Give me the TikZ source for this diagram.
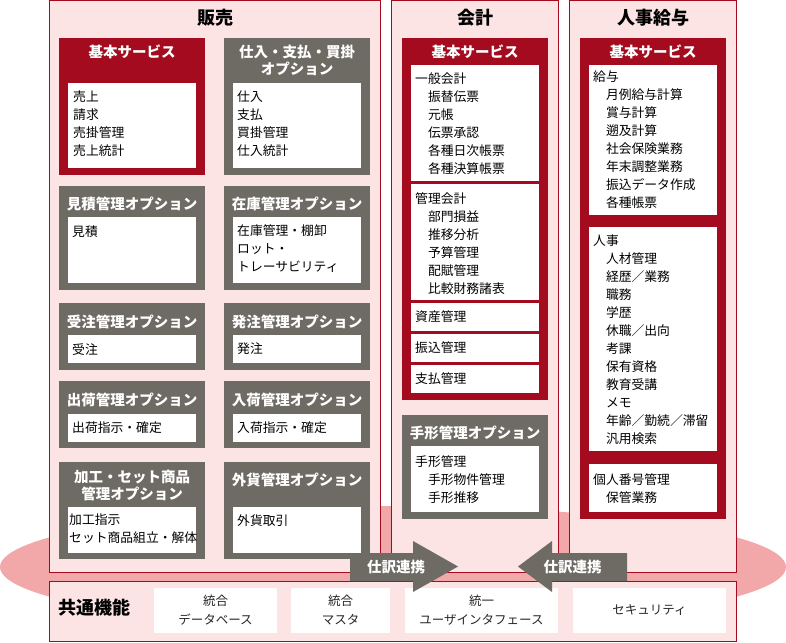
\documentclass[tikz,border=0pt]{standalone}
\usepackage{fontspec}
\setmainfont{Noto Sans CJK JP}
\usepackage{xcolor}
\usepackage{tikz}
\usetikzlibrary{shapes}

\definecolor{crimson}{RGB}{164,11,30}
\definecolor{boxgray}{RGB}{109,107,99}
\definecolor{panelpink}{RGB}{252,228,228}
\definecolor{basepink}{RGB}{242,167,169}

\newcommand{\indt}{\hspace*{1em}}

\tikzset{
	box/.style={anchor=north west, inner sep=0pt, outer sep=0pt},
	dim/.style 2 args={minimum width=#1pt, minimum height=#2pt},
	panel/.style={box, draw=crimson, fill=panelpink, line width=1pt},
	redbox/.style={box, fill=crimson},
	graybox/.style={box, fill=boxgray},
	whitebox/.style={box, fill=white},
	ptitle/.style={inner sep=0pt, font=\bfseries\fontsize{18}{20}\selectfont},
	btitle/.style={text=white, align=center, inner sep=0pt, font=\bfseries\fontsize{14.5}{17}\selectfont},
	items/.style={anchor=north west, align=left, inner sep=0pt, font=\fontsize{12.8}{18}\selectfont},
	cbox/.style={whitebox, align=center, text=black!85, font=\fontsize{12.5}{19}\selectfont}
}

\begin{document}
\begin{tikzpicture}[x=1pt,y=-1pt]
	\useasboundingbox (0,0) rectangle (786,642);
	% base ellipse
	\node[ellipse, fill=basepink, inner sep=0pt, minimum width=786pt, minimum height=122pt] (base) at (393,567) {};
	% panels
	\node[panel, dim={331}{572}] (sales) at (49.5,0.5) {};
	\node[panel, dim={167}{572}] (acct) at (391.5,0.5) {};
	\node[panel, dim={167}{572}] (hr) at (569.5,0.5) {};
	\node[panel, dim={687}{60}] (common) at (49.5,581) {};
	\node[ptitle] (salesT) at (215,18) {販売};
	\node[ptitle] (acctT) at (475,18) {会計};
	\node[ptitle] (hrT) at (653,18) {人事給与};
	%
	% sales
	\node[redbox, dim={146}{137}] (sBasic) at (59,38) {};
	\node[btitle] (sBasicT) at (132,52) {基本サービス};
	\node[whitebox, dim={128}{85}] (sBasicW) at (68,83) {};
	\node[items] (sBasicI) at (73,91) {売上\\請求\\売掛管理\\売上統計};
	\node[graybox, dim={146}{137}] (sBuy) at (224,38) {};
	\node[btitle] (sBuyT) at (297,60.5) {仕入・支払・買掛\\オプション};
	\node[whitebox, dim={128}{85}] (sBuyW) at (233,83) {};
	\node[items] (sBuyI) at (237,91) {仕入\\支払\\買掛管理\\仕入統計};
	\node[graybox, dim={146}{104}] (sEst) at (59,186) {};
	\node[btitle] (sEstT) at (132,204) {見積管理オプション};
	\node[whitebox, dim={128}{66}] (sEstW) at (68,217) {};
	\node[items] (sEstI) at (72,226) {見積};
	\node[graybox, dim={146}{104}] (sStock) at (224,186) {};
	\node[btitle] (sStockT) at (297,204) {在庫管理オプション};
	\node[whitebox, dim={128}{66}] (sStockW) at (233,217) {};
	\node[items] (sStockI) at (237,224) {在庫管理・棚卸\\ロット・\\トレーサビリティ};
	\node[graybox, dim={146}{67}] (sOrd) at (59,303) {};
	\node[btitle] (sOrdT) at (132,322) {受注管理オプション};
	\node[whitebox, dim={128}{28}] (sOrdW) at (68,335) {};
	\node[items] (sOrdI) at (72,343) {受注};
	\node[graybox, dim={146}{67}] (sPord) at (224,303) {};
	\node[btitle] (sPordT) at (297,322) {発注管理オプション};
	\node[whitebox, dim={128}{28}] (sPordW) at (233,335) {};
	\node[items] (sPordI) at (237,343) {発注};
	\node[graybox, dim={146}{67}] (sShip) at (59,381) {};
	\node[btitle] (sShipT) at (132,400) {出荷管理オプション};
	\node[whitebox, dim={128}{28}] (sShipW) at (68,414) {};
	\node[items] (sShipI) at (72,422) {出荷指示・確定};
	\node[graybox, dim={146}{67}] (sRecv) at (224,381) {};
	\node[btitle] (sRecvT) at (297,400) {入荷管理オプション};
	\node[whitebox, dim={128}{28}] (sRecvW) at (233,414) {};
	\node[items] (sRecvI) at (237,422) {入荷指示・確定};
	\node[graybox, dim={146}{97}] (sProc) at (59,462) {};
	\node[btitle] (sProcT) at (132,485.5) {加工・セット商品\\管理オプション};
	\node[whitebox, dim={128}{46}] (sProcW) at (68,507) {};
	\node[items] (sProcI) at (69,514) {加工指示\\セット商品組立・解体};
	\node[graybox, dim={146}{97}] (sFx) at (224,462) {};
	\node[btitle] (sFxT) at (297,480) {外貨管理オプション};
	\node[whitebox, dim={128}{46}] (sFxW) at (233,507) {};
	\node[items] (sFxI) at (237,514) {外貨取引};
	%
	% accounting
	\node[redbox, dim={146}{362}] (aBasic) at (402,38) {};
	\node[btitle] (aBasicT) at (475,52) {基本サービス};
	\node[whitebox, dim={128}{116}] (aGenW) at (411,65) {};
	\node[items] (aGenI) at (415,73) {一般会計\\\indt 振替伝票\\\indt 元帳\\\indt 伝票承認\\\indt 各種日次帳票\\\indt 各種決算帳票};
	\node[whitebox, dim={128}{116}] (aMgW) at (411,184) {};
	\node[items] (aMgI) at (415,192) {管理会計\\\indt 部門損益\\\indt 推移分析\\\indt 予算管理\\\indt 配賦管理\\\indt 比較財務諸表};
	\node[whitebox, dim={128}{28}] (aAssetW) at (411,303) {};
	\node[items] (aAssetI) at (415,310) {資産管理};
	\node[whitebox, dim={128}{28}] (aTransW) at (411,334) {};
	\node[items] (aTransI) at (415,341) {振込管理};
	\node[whitebox, dim={128}{28}] (aPayW) at (411,365) {};
	\node[items] (aPayI) at (415,372) {支払管理};
	\node[graybox, dim={146}{104}] (aBill) at (402,415) {};
	\node[btitle] (aBillT) at (475,433) {手形管理オプション};
	\node[whitebox, dim={128}{66}] (aBillW) at (411,446) {};
	\node[items] (aBillI) at (415,455) {手形管理\\\indt 手形物件管理\\\indt 手形推移};
	%
	% human resources
	\node[redbox, dim={146}{481}] (hBasic) at (580,38) {};
	\node[btitle] (hBasicT) at (653,52) {基本サービス};
	\node[whitebox, dim={128}{150}] (hPayW) at (589,65) {};
	\node[items] (hPayI) at (593,71) {給与\\\indt 月例給与計算\\\indt 賞与計算\\\indt 遡及計算\\\indt 社会保険業務\\\indt 年末調整業務\\\indt 振込データ作成\\\indt 各種帳票};
	\node[whitebox, dim={128}{224}] (hStaffW) at (589,227) {};
	\node[items] (hStaffI) at (593,235) {人事\\\indt 人材管理\\\indt 経歴／業務\\\indt 職務\\\indt 学歴\\\indt 休職／出向\\\indt 考課\\\indt 保有資格\\\indt 教育受講\\\indt メモ\\\indt 年齢／勤続／滞留\\\indt 汎用検索};
	\node[whitebox, dim={128}{48}] (hNumW) at (589,464) {};
	\node[items] (hNumI) at (593,473) {個人番号管理\\\indt 保管業務};
	%
	% common functions
	\node[ptitle] (commonT) at (94.5,608) {共通機能};
	\node[cbox, dim={123}{45}] (cDb) at (154,588) {統合\\データベース};
	\node[cbox, dim={99}{45}] (cMaster) at (291,588) {統合\\マスタ};
	\node[cbox, dim={153}{45}] (cUi) at (405,588) {統一\\ユーザインタフェース};
	\node[cbox, dim={153}{45}] (cSec) at (573,588) {セキュリティ};
	%
	% journal arrows
	\fill[boxgray] (350,553) -- (413,553) -- (413,541) -- (458,566.5) -- (413,592) -- (413,581) -- (350,581) -- cycle;
	\fill[boxgray] (627,553) -- (552,553) -- (552,541) -- (518,566.5) -- (552,592) -- (552,581) -- (627,581) -- cycle;
	\node[btitle] (jrnL) at (396,567) {仕訳連携};
	\node[btitle] (jrnR) at (572.5,567) {仕訳連携};
\end{tikzpicture}
\end{document}
